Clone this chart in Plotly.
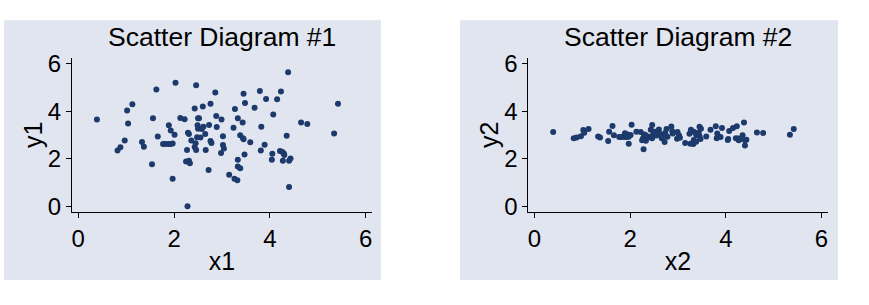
import plotly.graph_objects as go

# ---- data ----
x1 = [0.39, 0.82, 0.88, 0.97, 1.02, 1.04, 1.13, 1.33, 1.37, 1.54,
      1.56, 1.63, 1.66, 1.77, 1.82, 1.88, 1.93, 1.89, 1.93, 1.97,
      1.97, 2.01, 2.03, 2.13, 2.22, 2.25, 2.27, 2.28, 2.29, 2.31,
      2.31, 2.33, 2.36, 2.43, 2.43, 2.45, 2.46, 2.46, 2.48, 2.49,
      2.50, 2.52, 2.50, 2.55, 2.58, 2.60, 2.61, 2.65, 2.66, 2.72,
      2.73, 2.76, 2.76, 2.78, 2.86, 2.88, 2.89, 2.99, 2.98, 3.02,
      3.02, 3.04, 3.15, 3.24, 3.27, 3.26, 3.32, 3.33, 3.33, 3.33,
      3.38, 3.38, 3.43, 3.44, 3.45, 3.45, 3.48, 3.47, 3.59, 3.68,
      3.79, 3.82, 3.81, 3.89, 3.92, 4.04, 4.05, 4.07, 4.15, 4.23,
      4.21, 4.26, 4.27, 4.29, 4.30, 4.35, 4.38, 4.40, 4.40, 4.43,
      4.65, 4.78, 5.34, 5.42]
y1 = [3.66, 2.35, 2.49, 2.77, 4.04, 3.49, 4.30, 2.71, 2.51, 1.77,
      3.71, 4.92, 2.94, 2.62, 2.62, 2.62, 2.62, 3.41, 3.19, 1.16,
      2.65, 3.01, 5.21, 3.72, 3.67, 1.89, 2.37, 0.00, 3.10, 3.05,
      1.92, 1.81, 2.77, 4.12, 2.50, 2.66, 5.10, 2.37, 2.91, 3.41,
      3.71, 3.71, 3.27, 2.90, 3.26, 4.20, 3.35, 3.05, 2.37, 1.53,
      3.43, 4.32, 2.75, 2.67, 4.79, 3.80, 3.34, 3.66, 2.25, 2.95,
      2.58, 2.43, 1.33, 3.31, 4.10, 1.16, 1.10, 3.71, 1.96, 1.68,
      1.60, 2.99, 3.53, 2.87, 2.82, 4.74, 4.35, 2.18, 2.70, 4.15,
      4.86, 3.35, 2.35, 2.59, 4.52, 1.96, 2.21, 3.87, 4.51, 4.84,
      2.33, 2.29, 1.92, 2.22, 2.16, 2.97, 5.65, 0.81, 1.92, 2.01,
      3.53, 3.47, 3.07, 4.32]
x2 = list(x1)  # the second diagram shares the same x positions
y2 = [3.13, 2.87, 2.90, 2.95, 3.21, 3.10, 3.26, 2.94, 2.90, 2.75,
      3.14, 3.38, 2.99, 2.92, 2.92, 2.92, 2.92, 3.08, 3.04, 2.63,
      2.93, 3.00, 3.44, 3.14, 3.13, 2.78, 2.87, 2.40, 3.02, 3.01,
      2.78, 2.76, 2.95, 3.22, 2.90, 2.93, 3.42, 2.87, 2.98, 3.08,
      3.14, 3.14, 3.05, 2.98, 3.05, 3.24, 3.07, 3.01, 2.87, 2.71,
      3.09, 3.26, 2.95, 2.93, 3.36, 3.16, 3.07, 3.13, 2.85, 2.99,
      2.92, 2.89, 2.67, 3.06, 3.22, 2.63, 2.62, 3.14, 2.79, 2.74,
      2.72, 3.00, 3.11, 2.97, 2.96, 3.35, 3.27, 2.84, 2.94, 3.23,
      3.37, 3.07, 2.87, 2.92, 3.30, 2.79, 2.84, 3.17, 3.30, 3.37,
      2.87, 2.86, 2.78, 2.84, 2.83, 2.99, 3.53, 2.56, 2.78, 2.80,
      3.11, 3.09, 3.01, 3.26]
tick_vals = [0, 2, 4, 6]
titles = ["Scatter Diagram #1", "Scatter Diagram #2"]
x_titles = ["x1", "x2"]
y_titles = ["y1", "y2"]

W, H = 869, 305
FONT = "Liberation Sans, Arial, sans-serif"
MARK = "#1C3A6B"
BG = "#E1E5F0"
GRID = "#DFE3EE"

fig = go.Figure()
fig.add_trace(go.Scatter(x=x1, y=y1, mode="markers", xaxis="x", yaxis="y",
                         marker=dict(color=MARK, size=6), showlegend=False))
fig.add_trace(go.Scatter(x=x2, y=y2, mode="markers", xaxis="x2", yaxis="y2",
                         marker=dict(color=MARK, size=6), showlegend=False))

def px(v):
    return v / W

def py(v):
    return 1 - v / H

ydom = [py(215), py(53)]
doms = [[px(72), px(372)], [px(528.3), px(827.7)]]
ytitle_x = [33, 489]

def xax(dom, anchor, title):
    return dict(domain=dom, anchor=anchor, range=[-0.13, 6.13], tickvals=tick_vals,
                ticks="outside", ticklen=5, tickcolor="black", tickwidth=1,
                showline=True, linecolor="black", linewidth=1, showgrid=False,
                zeroline=False, tickfont=dict(size=24, color="black"),
                title=dict(text=title, font=dict(size=25, color="black"), standoff=1))

def yax(anchor):
    return dict(domain=ydom, anchor=anchor, range=[-0.23, 6.24], tickvals=tick_vals,
                ticks="outside", ticklen=5, tickcolor="black", tickwidth=1,
                showline=True, linecolor="black", linewidth=1, showgrid=True,
                gridcolor=GRID, gridwidth=1, zeroline=False,
                tickfont=dict(size=24, color="black"))

shapes = [
    dict(type="rect", xref="paper", yref="paper", x0=px(4), x1=px(381), y0=py(287), y1=py(13),
         fillcolor=BG, line=dict(width=0), layer="below"),
    dict(type="rect", xref="paper", yref="paper", x0=px(460), x1=px(838), y0=py(287), y1=py(13),
         fillcolor=BG, line=dict(width=0), layer="below"),
]

annotations = []
for t, d in zip(titles, doms):
    annotations.append(dict(text=t, xref="paper", yref="paper", x=(d[0] + d[1]) / 2,
                            y=py(31), xanchor="center", yanchor="middle", showarrow=False,
                            font=dict(size=26.5, color="black")))
for t, xp in zip(y_titles, ytitle_x):
    annotations.append(dict(text=t, xref="paper", yref="paper", x=px(xp),
                            y=(ydom[0] + ydom[1]) / 2, xanchor="center", yanchor="middle",
                            textangle=-90, showarrow=False,
                            font=dict(size=25, color="black")))

fig.update_layout(
    width=W, height=H, margin=dict(l=0, r=0, t=0, b=0),
    paper_bgcolor="white", plot_bgcolor="white",
    font=dict(family=FONT, color="black"),
    xaxis=xax(doms[0], "y", x_titles[0]), yaxis=yax("x"),
    xaxis2=xax(doms[1], "y2", x_titles[1]), yaxis2=yax("x2"),
    shapes=shapes, annotations=annotations,
)

fig.write_html("out.html")
